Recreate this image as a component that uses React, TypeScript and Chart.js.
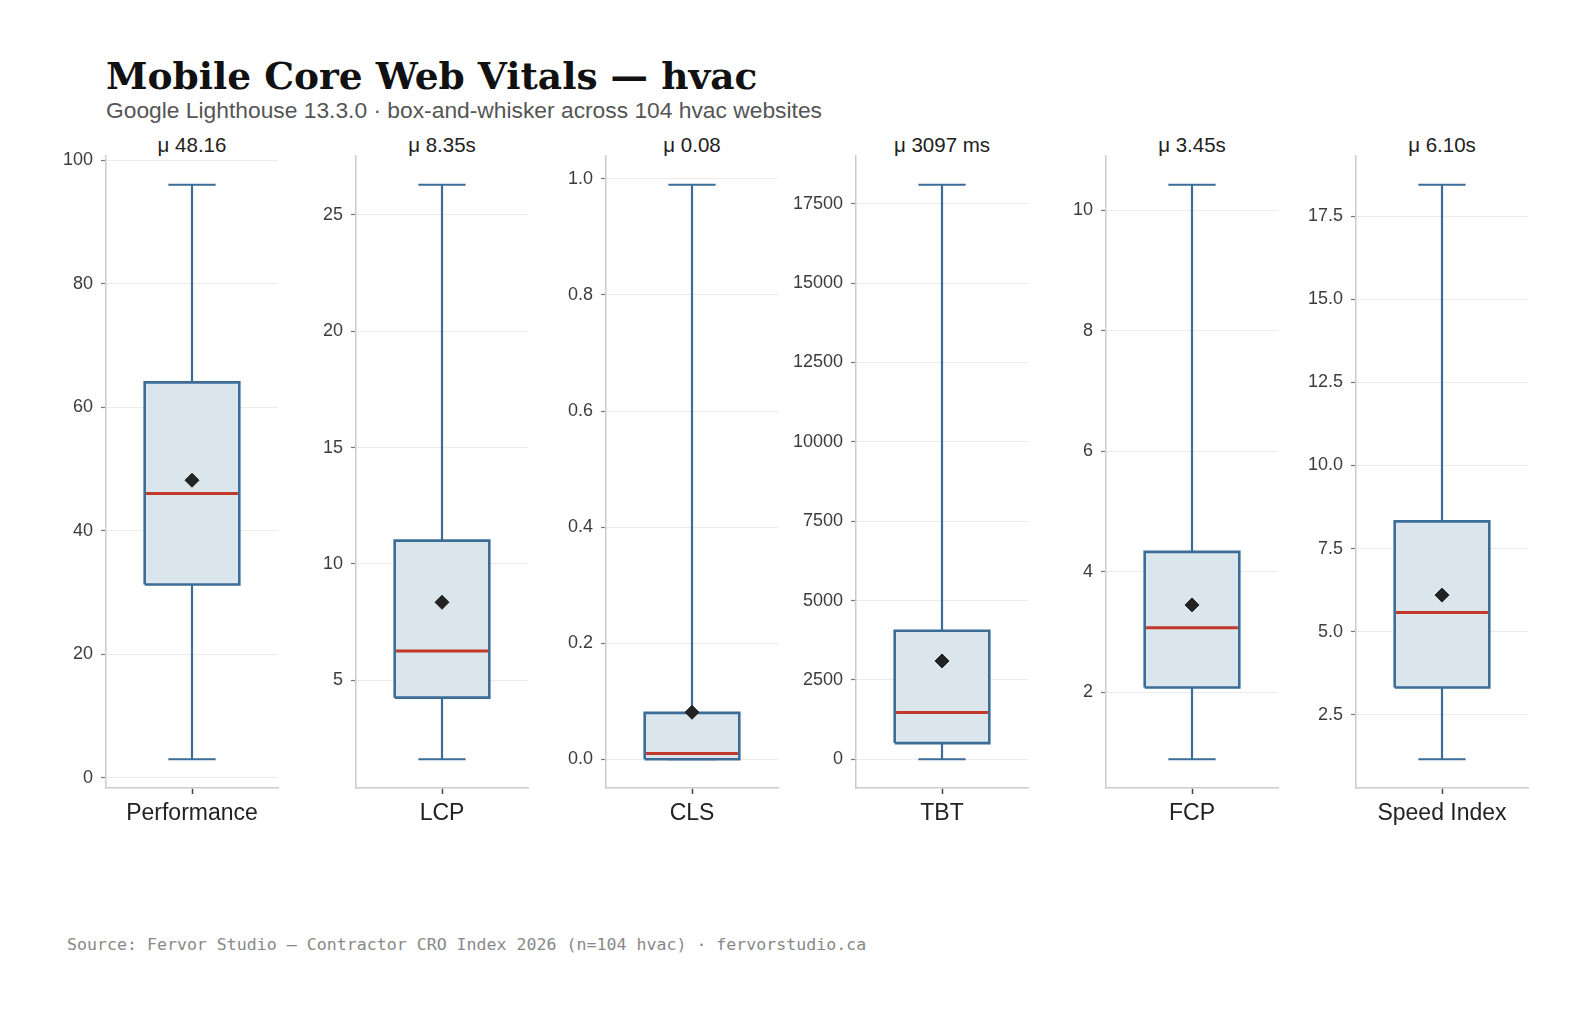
import React, { useEffect, useRef } from "react";
import Chart from "chart.js/auto";

const metrics = ["Performance", "LCP", "CLS", "TBT", "FCP", "Speed Index"];
const meanLabels = ["μ 48.16", "μ 8.35s", "μ 0.08", "μ 3097 ms", "μ 3.45s", "μ 6.10s"];
const whiskerLow = [3, 1.6, 0, 0, 0.89, 1.16];
const q1Values = [31.3, 4.25, 0, 510, 2.08, 3.32];
const medianValues = [46, 6.25, 0.01, 1470, 3.07, 5.58];
const q3Values = [64, 11.0, 0.08, 4050, 4.33, 8.32];
const whiskerHigh = [96, 26.3, 0.99, 18100, 10.42, 18.45];
const meanValues = [48.16, 8.35, 0.081, 3097, 3.45, 6.1];
const yTicks = [
  [0, 20, 40, 60, 80, 100],
  [5, 10, 15, 20, 25],
  [0, 0.2, 0.4, 0.6, 0.8, 1.0],
  [0, 2500, 5000, 7500, 10000, 12500, 15000, 17500],
  [2, 4, 6, 8, 10],
  [2.5, 5, 7.5, 10, 12.5, 15, 17.5],
];
const tickDecimals = [0, 0, 1, 0, 0, 1];

const EDGE = "#3b6d96";
const FILL = "#dbe5ec";
const MEDIAN = "#c0392b";
const MEAN = "#222222";
const NONE = "rgba(0,0,0,0)";
const SANS = "'Liberation Sans', Arial, Helvetica, sans-serif";

const PANEL_LEFT0 = 106;
const PANEL_STEP = 250;
const PANEL_W = 172;
const PANEL_TOP = 156;
const PANEL_H = 632;
const YAXIS_W = 80;
const PAD_TOP = 20;
const PAD_RIGHT = 10;
const XAXIS_H = 50;

const BOX_HALF = 0.275;
const CAP_HALF = 0.1375;

function Panel({ i }: { i: number }) {
  const ref = useRef<HTMLCanvasElement | null>(null);
  useEffect(() => {
    if (!ref.current) return;
    const lo = whiskerLow[i];
    const hi = whiskerHigh[i];
    const q1 = q1Values[i];
    const q3 = q3Values[i];
    const med = medianValues[i];
    const pad = 0.05 * (hi - lo);
    const seg = (pts: { x: number; y: number }[], color: string, width: number, order: number, extra: any = {}) => ({
      data: pts,
      borderColor: color,
      backgroundColor: NONE,
      borderWidth: width,
      pointRadius: 0,
      fill: false,
      tension: 0,
      order,
      ...extra,
    });
    const chart = new Chart(ref.current, {
      type: "line",
      data: {
        datasets: [
          seg([{ x: 0, y: q3 }, { x: 0, y: hi }], EDGE, 2.2, 6),
          seg([{ x: 0, y: q1 }, { x: 0, y: lo }], EDGE, 2.2, 6),
          seg([{ x: -CAP_HALF, y: hi }, { x: CAP_HALF, y: hi }], EDGE, 2.2, 6),
          seg([{ x: -CAP_HALF, y: lo }, { x: CAP_HALF, y: lo }], EDGE, 2.2, 6),
          seg([{ x: -BOX_HALF, y: q3 }, { x: BOX_HALF, y: q3 }], NONE, 1, 4, { fill: "+1", backgroundColor: FILL }),
          seg([{ x: -BOX_HALF, y: q1 }, { x: BOX_HALF, y: q1 }], NONE, 1, 4),
          seg(
            [
              { x: -BOX_HALF, y: q1 },
              { x: BOX_HALF, y: q1 },
              { x: BOX_HALF, y: q3 },
              { x: -BOX_HALF, y: q3 },
              { x: -BOX_HALF, y: q1 },
            ],
            EDGE,
            2.6,
            3,
            { borderJoinStyle: "miter" }
          ),
          seg([{ x: -BOX_HALF + 0.008, y: med }, { x: BOX_HALF - 0.008, y: med }], MEDIAN, 3, 1),
          {
            data: [{ x: 0, y: meanValues[i] }],
            showLine: false,
            pointStyle: "rectRot",
            pointRadius: 7,
            pointBackgroundColor: MEAN,
            pointBorderColor: MEAN,
            pointBorderWidth: 1,
            order: 0,
          } as any,
        ],
      },
      options: {
        responsive: false,
        animation: false,
        events: [],
        layout: { padding: { top: PAD_TOP, right: PAD_RIGHT, left: 0, bottom: 0 }, autoPadding: false },
        plugins: { legend: { display: false }, tooltip: { enabled: false } },
        scales: {
          x: {
            type: "linear",
            min: -0.5,
            max: 0.5,
            offset: false,
            afterBuildTicks: (s: any) => {
              s.ticks = [{ value: 0 }];
            },
            grid: {
              display: true,
              drawOnChartArea: false,
              drawTicks: true,
              tickLength: 6,
              tickColor: "#444444",
              tickWidth: 1.5,
            },
            border: { display: true, color: "#cccccc", width: 1.5 },
            ticks: {
              callback: () => metrics[i],
              font: { family: SANS, size: 23 },
              color: "#222222",
              padding: 6,
              maxRotation: 0,
              autoSkip: false,
            },
            afterFit: (s: any) => {
              s.height = XAXIS_H;
            },
          },
          y: {
            type: "linear",
            min: lo - pad,
            max: hi + pad,
            afterBuildTicks: (s: any) => {
              s.ticks = yTicks[i].map((v) => ({ value: v }));
            },
            ticks: {
              callback: (v: any) => Number(v).toFixed(tickDecimals[i]),
              font: { family: SANS, size: 18 },
              color: "#3c3c3c",
              padding: 8,
              autoSkip: false,
            },
            grid: { color: "#ebebeb", lineWidth: 1, drawTicks: true, tickLength: 5, tickColor: "#777777", tickWidth: 1.2 },
            border: { display: true, color: "#cccccc", width: 1.5 },
            afterFit: (s: any) => {
              s.width = YAXIS_W;
            },
          },
        },
      } as any,
    });
    return () => chart.destroy();
  }, [i]);
  const left = PANEL_LEFT0 + PANEL_STEP * i - YAXIS_W;
  return (
    <canvas
      ref={ref}
      width={YAXIS_W + PANEL_W + PAD_RIGHT}
      height={PAD_TOP + PANEL_H + XAXIS_H}
      style={{ position: "absolute", left, top: PANEL_TOP - PAD_TOP, width: YAXIS_W + PANEL_W + PAD_RIGHT, height: PAD_TOP + PANEL_H + XAXIS_H }}
    />
  );
}

export default function App() {
  return (
    <div style={{ position: "absolute", left: 0, top: 0, width: 1588, height: 1014, background: "#ffffff", overflow: "hidden" }}>
      <div
        style={{
          position: "absolute",
          left: 106,
          top: 58,
          fontFamily: "'DejaVu Serif', serif",
          fontWeight: "bold",
          fontSize: 37.5,
          lineHeight: 1,
          color: "#111111",
          whiteSpace: "nowrap",
        }}
      >
        Mobile Core Web Vitals — hvac
      </div>
      <div
        style={{
          position: "absolute",
          left: 106,
          top: 99,
          fontFamily: SANS,
          fontSize: 22.8,
          lineHeight: 1,
          color: "#555555",
          whiteSpace: "nowrap",
        }}
      >
        Google Lighthouse 13.3.0 · box-and-whisker across 104 hvac websites
      </div>
      {metrics.map((m, i) => (
        <div
          key={"mu" + i}
          style={{
            position: "absolute",
            left: PANEL_LEFT0 + PANEL_STEP * i + PANEL_W / 2 - 150,
            width: 300,
            top: 135,
            textAlign: "center",
            fontFamily: SANS,
            fontSize: 20.5,
            lineHeight: 1,
            color: "#222222",
            whiteSpace: "nowrap",
          }}
        >
          {meanLabels[i]}
        </div>
      ))}
      {metrics.map((m, i) => (
        <Panel key={m} i={i} />
      ))}
      <div
        style={{
          position: "absolute",
          left: 67,
          top: 937,
          fontFamily: "'DejaVu Sans Mono', monospace",
          fontSize: 16.6,
          lineHeight: 1,
          color: "#888888",
          whiteSpace: "nowrap",
        }}
      >
        Source: Fervor Studio — Contractor CRO Index 2026 (n=104 hvac) · fervorstudio.ca
      </div>
    </div>
  );
}
